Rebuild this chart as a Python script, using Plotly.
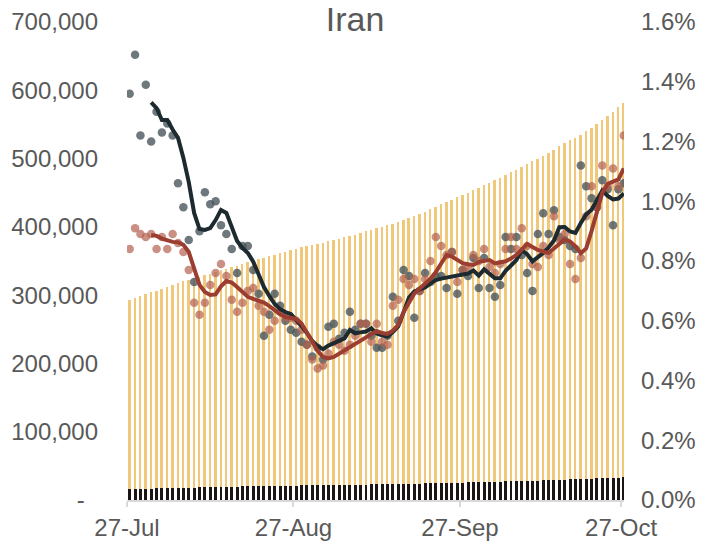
import pandas as pd
import plotly.graph_objects as go

# ---------------- data ----------------
start_date = "2020-07-27"
n_days = 93
tick_dates = ["2020-07-27", "2020-08-27", "2020-09-27", "2020-10-27"]
tick_labels = ["27-Jul", "27-Aug", "27-Sep", "27-Oct"]

cum_cases = [
    293606, 296273, 298909, 301530, 304204,
    306752, 309437, 312035, 314786, 317483, 320117, 322567, 324692, 326712, 328844,
    331189, 333699, 336324, 338825, 341070, 343203, 345450, 347835, 350279, 352558,
    354764, 356792, 358905, 361150, 363363, 365606, 367796, 369911, 371816, 373570, 375212,
    376894, 378752, 380746, 382772, 384666, 386658, 388810, 391112, 393425, 395488,
    397801, 399940, 402029, 404648, 407353, 410334, 413149, 416198, 419043, 422140,
    425481, 429193, 432798, 436319, 439882, 443086, 446448, 449960, 453637, 457219,
    461044, 464596, 468119, 471772, 475674, 479825, 483844, 488236, 492378, 496253,
    500075, 504281, 508389, 513219, 517835, 522387, 526490, 530380, 534631, 539670,
    545286, 550757, 556891, 562705, 568896, 574856, 581824,
]

cum_deaths = [
    15912, 16147, 16343, 16569, 16766,
    16982, 17190, 17405, 17617, 17802, 17976, 18132, 18264, 18427, 18616,
    18800, 18988, 19162, 19331, 19492, 19639, 19804, 19972, 20125, 20264,
    20376, 20502, 20643, 20776, 20901, 21020, 21137, 21249, 21359, 21462, 21571,
    21672, 21797, 21926, 22044, 22154, 22293, 22410, 22542, 22669, 22798,
    22913, 23029, 23157, 23313, 23453, 23632, 23808, 23952, 24118, 24301,
    24478, 24656, 24840, 25015, 25222, 25394, 25589, 25779, 25986, 26169,
    26380, 26567, 26746, 26957, 27192, 27419, 27658, 27888, 28098, 28293,
    28544, 28816, 29070, 29349, 29605, 29870, 30123, 30375, 30712, 31034,
    31346, 31650, 31985, 32320, 32616, 32953, 33299,
]

# daily growth rates, %
death_growth = [
    1.36, 1.49, 1.22, 1.39, 1.20, 1.30, 1.23, 1.26, 1.22, 1.06,
    0.98, 0.87, 0.73, 0.90, 1.03, 0.99, 1.00, 0.92, 0.89, 0.84,
    0.76, 0.85, 0.85, 0.77, 0.69, 0.55, 0.62, 0.69, 0.65, 0.60,
    0.57, 0.56, 0.53, 0.52, 0.48, 0.51, 0.47, 0.58, 0.59, 0.54,
    0.56, 0.63, 0.57, 0.59, 0.59, 0.55, 0.51, 0.51, 0.55, 0.68,
    0.60, 0.77, 0.75, 0.61, 0.70, 0.76, 0.73, 0.75, 0.75, 0.71,
    0.83, 0.69, 0.77, 0.75, 0.81, 0.71, 0.81, 0.71, 0.68, 0.72,
    0.88, 0.84, 0.88, 0.82, 0.76, 0.70, 0.89, 0.96, 0.89, 0.97,
    0.88, 0.87, 0.85, 0.84, 1.12, 1.05, 1.01, 0.98, 1.07, 1.04,
    0.92, 1.04, 1.06,
]

case_growth = [
    0.84, 0.91, 0.89, 0.88, 0.89, 0.84, 0.88, 0.84, 0.89, 0.86,
    0.83, 0.77, 0.66, 0.62, 0.66, 0.72, 0.76, 0.79, 0.75, 0.67,
    0.63, 0.66, 0.70, 0.71, 0.65, 0.63, 0.57, 0.60, 0.63, 0.61,
    0.61, 0.60, 0.57, 0.52, 0.47, 0.44, 0.45, 0.49, 0.53, 0.52,
    0.50, 0.52, 0.55, 0.59, 0.59, 0.53, 0.59, 0.53, 0.52, 0.65,
    0.67, 0.74, 0.72, 0.74, 0.70, 0.74, 0.80, 0.88, 0.85, 0.82,
    0.83, 0.73, 0.77, 0.78, 0.82, 0.80, 0.84, 0.78, 0.76, 0.79,
    0.84, 0.88, 0.84, 0.91, 0.85, 0.79, 0.78, 0.85, 0.82, 0.95,
    0.87, 0.89, 0.79, 0.74, 0.81, 0.95, 1.05, 0.98, 1.12, 1.05,
    1.11, 1.05, 1.22,
]

death_growth_avg = [None, None, None, None,
    1.331, 1.312, 1.272, 1.272, 1.240, 1.212, 1.145, 1.064, 0.961, 0.907,
    0.904, 0.910, 0.937, 0.971, 0.961, 0.917, 0.867, 0.844, 0.827, 0.798,
    0.756, 0.713, 0.683, 0.656, 0.639, 0.629, 0.623, 0.604, 0.582, 0.559,
    0.532, 0.515, 0.505, 0.517, 0.526, 0.534, 0.541, 0.569, 0.558, 0.561,
    0.564, 0.575, 0.557, 0.551, 0.547, 0.562, 0.581, 0.628, 0.678, 0.698,
    0.706, 0.711, 0.725, 0.736, 0.741, 0.744, 0.750, 0.753, 0.756, 0.758,
    0.768, 0.751, 0.772, 0.755, 0.742, 0.742, 0.767, 0.785, 0.803, 0.837,
    0.823, 0.799, 0.812, 0.827, 0.845, 0.869, 0.913, 0.914, 0.899, 0.894,
    0.927, 0.956, 0.972, 1.001, 1.036, 1.018, 1.006, 1.009, 1.026,
]

case_growth_avg = [None, None, None, None,
    0.887, 0.884, 0.875, 0.869, 0.864, 0.863, 0.854, 0.830, 0.777, 0.720,
    0.696, 0.686, 0.688, 0.715, 0.733, 0.728, 0.713, 0.695, 0.680, 0.673,
    0.667, 0.661, 0.649, 0.634, 0.622, 0.613, 0.611, 0.606, 0.591, 0.562,
    0.532, 0.499, 0.479, 0.474, 0.479, 0.490, 0.500, 0.512, 0.524, 0.536,
    0.546, 0.556, 0.566, 0.559, 0.556, 0.567, 0.586, 0.629, 0.663, 0.691,
    0.708, 0.723, 0.740, 0.763, 0.790, 0.820, 0.815, 0.805, 0.793, 0.789,
    0.787, 0.797, 0.800, 0.803, 0.792, 0.794, 0.799, 0.808, 0.820, 0.838,
    0.857, 0.847, 0.837, 0.831, 0.827, 0.842, 0.857, 0.872, 0.865, 0.849,
    0.826, 0.842, 0.900, 0.967, 1.028, 1.058, 1.065, 1.073, 1.110,
]

left_tickvals = [0, 100000, 200000, 300000, 400000, 500000, 600000, 700000]
left_ticktext = ["-\u00a0\u00a0", "100,000", "200,000", "300,000", "400,000",
                 "500,000", "600,000", "700,000"]
right_tickvals = [0, 0.2, 0.4, 0.6, 0.8, 1.0, 1.2, 1.4, 1.6]
right_ticktext = ["0.0%", "0.2%", "0.4%", "0.6%", "0.8%", "1.0%", "1.2%", "1.4%", "1.6%"]

# ---------------- figure ----------------
dates = pd.date_range(start_date, periods=n_days, freq="D") + pd.Timedelta(hours=12)
DAY_MS = 86400000

TXT = "#595959"
FONT = "Liberation Sans, Arial, sans-serif"
TICK_SIZE = 24

fig = go.Figure()
fig.add_trace(go.Bar(x=dates, y=cum_cases, width=0.36 * DAY_MS,
                     marker=dict(color="#f1c87a", line=dict(width=0)),
                     name="Cases", yaxis="y"))
fig.add_trace(go.Bar(x=dates, y=cum_deaths, width=0.55 * DAY_MS,
                     marker=dict(color="#1c1515", line=dict(width=0)),
                     name="Deaths", yaxis="y"))
fig.add_trace(go.Scatter(x=dates, y=death_growth, mode="markers", yaxis="y2",
                         marker=dict(size=8.5, color="#4a565c", opacity=0.8),
                         name="Death growth"))
fig.add_trace(go.Scatter(x=dates, y=case_growth, mode="markers", yaxis="y2",
                         marker=dict(size=8.5, color="#b2614f", opacity=0.7),
                         name="Case growth"))
fig.add_trace(go.Scatter(x=dates, y=death_growth_avg, mode="lines", yaxis="y2",
                         line=dict(color="#1d2a2f", width=4),
                         name="Death growth avg"))
fig.add_trace(go.Scatter(x=dates, y=case_growth_avg, mode="lines", yaxis="y2",
                         line=dict(color="#9b3d30", width=4),
                         name="Case growth avg"))

fig.update_layout(
    width=702, height=548,
    margin=dict(l=127, r=78, t=22, b=48),
    paper_bgcolor="white", plot_bgcolor="white",
    barmode="overlay", bargap=0,
    showlegend=False,
    font=dict(family=FONT, color=TXT, size=TICK_SIZE),
    title=dict(text="Iran", x=355 / 702, xref="container", xanchor="center",
               y=1 - 7 / 548, yref="container", yanchor="top",
               font=dict(size=34, color=TXT, family=FONT)),
    xaxis=dict(type="date",
               range=["2020-07-27 00:00", "2020-10-27 13:00"],
               tickvals=tick_dates, ticktext=tick_labels,
               showgrid=False, zeroline=False, automargin=False,
               showline=True, linecolor="#d9d9d9", linewidth=1.5,
               ticks="outside", ticklen=5, tickcolor="#d9d9d9", tickwidth=1.5,
               tickfont=dict(size=TICK_SIZE, color=TXT), ticklabelstandoff=0),
    yaxis=dict(range=[0, 700000], tickvals=left_tickvals, ticktext=left_ticktext,
               showgrid=False, zeroline=False, showline=False, ticks="",
               automargin=False,
               tickfont=dict(size=TICK_SIZE, color=TXT), ticklabelstandoff=28),
    yaxis2=dict(range=[0, 1.6], tickvals=right_tickvals, ticktext=right_ticktext,
                overlaying="y", side="right", automargin=False,
                showgrid=False, zeroline=False, showline=False, ticks="",
                tickfont=dict(size=TICK_SIZE, color=TXT), ticklabelstandoff=16),
)

fig.write_html("out.html", config={"displayModeBar": False},
               post_script="document.body.style.margin='0';")
